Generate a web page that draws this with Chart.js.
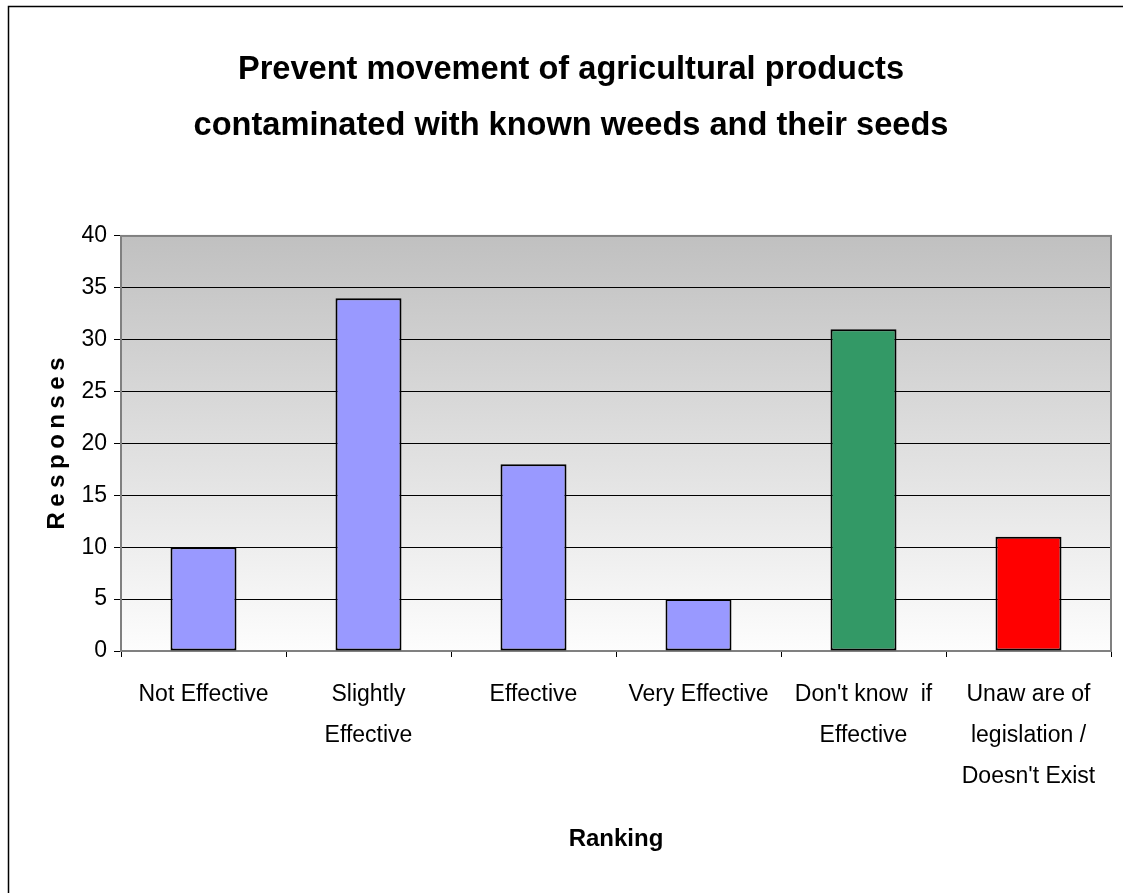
<!DOCTYPE html>
<html>
<head>
<meta charset="utf-8">
<script src="https://cdn.jsdelivr.net/npm/chart.js@4/dist/chart.umd.min.js"></script>
<style>
  html, body { margin: 0; padding: 0; background: #ffffff; }
  canvas { display: block; }
</style>
</head>
<body>
<canvas id="chart" width="1123" height="893"></canvas>
<script>
// Survey answers on how effective the rule is
const categories = [
  ['Not Effective'],
  ['Slightly', 'Effective'],
  ['Effective'],
  ['Very Effective'],
  ["Don't know  if", 'Effective'],
  ['Unaw are of', 'legislation /', "Doesn't Exist"]
];
const responses = [10, 34, 18, 5, 31, 11];
const barColors = ['#9999FF', '#9999FF', '#9999FF', '#9999FF', '#339966', '#FF0000'];
const yTicks = [0, 5, 10, 15, 20, 25, 30, 35, 40];

const titleLines = [
  'Prevent movement of agricultural products',
  'contaminated with known weeds and their seeds'
];
const xTitle = 'Ranking';
const yTitle = 'Responses';

const sans = "'Liberation Sans', Arial, sans-serif";

// White page, outer frame and shaded plot background
const backdrop = {
  id: 'backdrop',
  beforeDraw(chart) {
    const { ctx, chartArea: a, width, height } = chart;
    ctx.save();
    ctx.fillStyle = '#ffffff';
    ctx.fillRect(0, 0, width, height);
    ctx.strokeStyle = '#000000';
    ctx.lineWidth = 1.5;
    ctx.beginPath();
    ctx.moveTo(8.5, height + 2);
    ctx.lineTo(8.5, 6.5);
    ctx.lineTo(width + 2, 6.5);
    ctx.stroke();
    const g = ctx.createLinearGradient(0, a.top, 0, a.bottom);
    g.addColorStop(0, '#c0c0c0');
    g.addColorStop(1, '#fdfdfd');
    ctx.fillStyle = g;
    ctx.fillRect(a.left, a.top, a.right - a.left, a.bottom - a.top);
    ctx.restore();
  },
  beforeDatasetsDraw(chart) {
    const { ctx, chartArea: a } = chart;
    ctx.save();
    ctx.strokeStyle = '#808080';
    ctx.lineWidth = 2;
    ctx.strokeRect(a.left, a.top, a.right - a.left, a.bottom - a.top);
    ctx.restore();
  }
};

// Letter-spaced vertical axis title
const spacedYTitle = {
  id: 'spacedYTitle',
  afterDraw(chart) {
    const { ctx, chartArea: a } = chart;
    ctx.save();
    ctx.translate(57, (a.top + a.bottom) / 2);
    ctx.rotate(-Math.PI / 2);
    ctx.font = 'bold 24px ' + sans;
    ctx.fillStyle = '#000000';
    ctx.textAlign = 'center';
    ctx.textBaseline = 'middle';
    const sp = 5.5;
    if ('letterSpacing' in ctx) {
      ctx.letterSpacing = sp + 'px';
      ctx.fillText(yTitle, sp / 2, 0);
    } else {
      ctx.fillText(yTitle, 0, 0);
    }
    ctx.restore();
  }
};

new Chart(document.getElementById('chart'), {
  type: 'bar',
  data: {
    labels: categories,
    datasets: [{
      label: yTitle,
      data: responses,
      backgroundColor: barColors,
      borderColor: '#000000',
      borderWidth: 2,
      borderSkipped: false,
      categoryPercentage: 1.0,
      barPercentage: 0.4
    }]
  },
  options: {
    responsive: false,
    animation: false,
    devicePixelRatio: 1,
    layout: { padding: { left: 31, right: 12, top: 0, bottom: 0 } },
    plugins: {
      legend: { display: false },
      tooltip: { enabled: false },
      title: {
        display: true,
        text: titleLines,
        color: '#000000',
        font: { family: sans, size: 32.6, weight: 'bold', lineHeight: 1.72 },
        padding: { top: 42, bottom: 81.8 }
      }
    },
    scales: {
      x: {
        afterFit(scale) { scale.height = 242; },
        border: { display: false },
        grid: {
          offset: true,
          drawOnChartArea: false,
          drawTicks: true,
          tickLength: 6,
          color: '#000000',
          lineWidth: 1
        },
        ticks: {
          color: '#000000',
          padding: 17,
          maxRotation: 0,
          autoSkip: false,
          font: { family: sans, size: 23, lineHeight: 1.78 }
        },
        title: {
          display: true,
          text: xTitle,
          color: '#000000',
          font: { family: sans, size: 24, weight: 'bold', lineHeight: 1.2 },
          padding: { top: 0, bottom: 39 }
        }
      },
      y: {
        min: 0,
        max: 40,
        afterFit(scale) { scale.width = 90; },
        afterBuildTicks(scale) { scale.ticks = yTicks.map(v => ({ value: v })); },
        border: { display: false },
        grid: {
          color: '#000000',
          lineWidth: 1,
          drawTicks: true,
          tickLength: 7
        },
        ticks: {
          color: '#000000',
          padding: 7,
          font: { family: sans, size: 23 }
        }
      }
    }
  },
  plugins: [backdrop, spacedYTitle]
});
</script>
</body>
</html>
